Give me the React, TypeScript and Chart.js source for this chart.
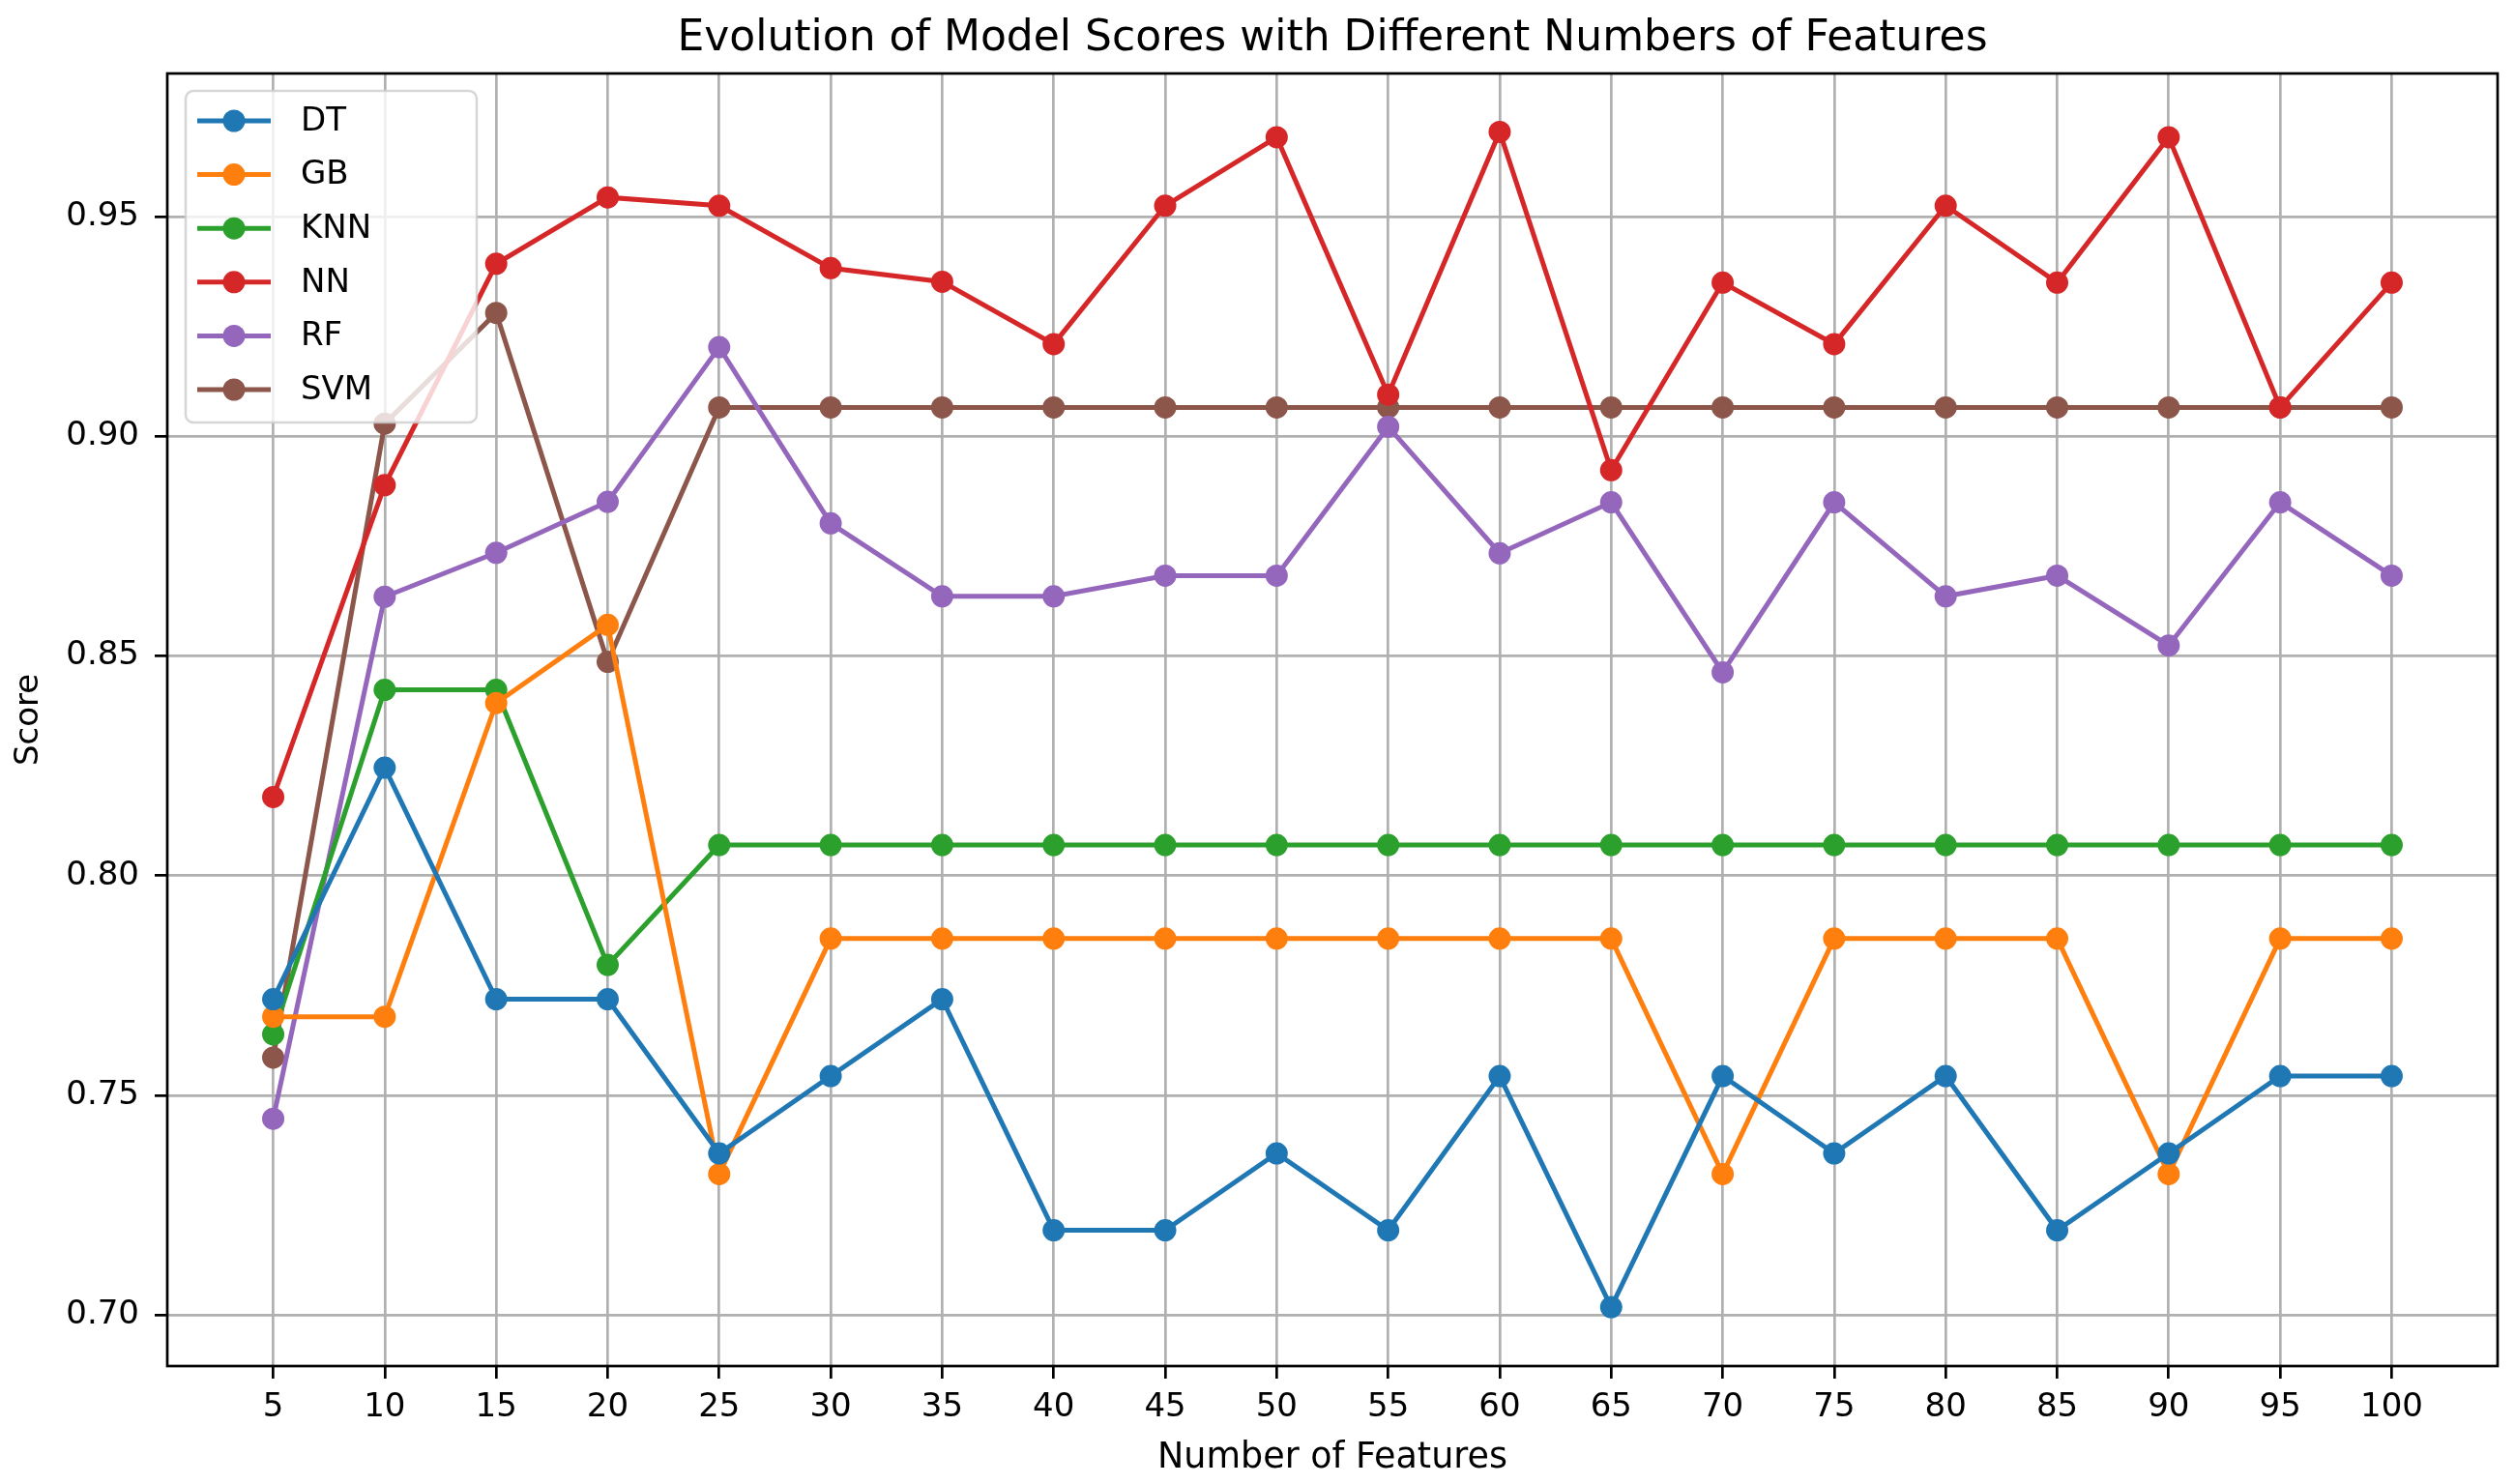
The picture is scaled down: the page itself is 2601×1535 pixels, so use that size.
import React, { useEffect, useRef } from "react";
import { Chart, registerables } from "chart.js";

Chart.register(...registerables);

const features = [5, 10, 15, 20, 25, 30, 35, 40, 45, 50, 55, 60, 65, 70, 75, 80, 85, 90, 95, 100];
const yTicks = [0.7, 0.75, 0.8, 0.85, 0.9, 0.95];
const modelNames = ["DT", "GB", "KNN", "NN", "RF", "SVM"];
const modelColors = ["#1f77b4", "#ff7f0e", "#2ca02c", "#d62728", "#9467bd", "#8c564b"];

const dtScores = [0.7719, 0.8246, 0.7719, 0.7719, 0.7368, 0.7544, 0.7719, 0.7193, 0.7193, 0.7368, 0.7193, 0.7544, 0.7018, 0.7544, 0.7368, 0.7544, 0.7193, 0.7368, 0.7544, 0.7544];
const gbScores = [0.7679, 0.7679, 0.8393, 0.8571, 0.7321, 0.7857, 0.7857, 0.7857, 0.7857, 0.7857, 0.7857, 0.7857, 0.7857, 0.7321, 0.7857, 0.7857, 0.7857, 0.7321, 0.7857, 0.7857];
const knnScores = [0.7639, 0.8423, 0.8423, 0.7797, 0.807, 0.807, 0.807, 0.807, 0.807, 0.807, 0.807, 0.807, 0.807, 0.807, 0.807, 0.807, 0.807, 0.807, 0.807, 0.807];
const nnScores = [0.8179, 0.8889, 0.9393, 0.9544, 0.9525, 0.9383, 0.9352, 0.921, 0.9525, 0.9681, 0.9095, 0.9693, 0.8923, 0.935, 0.921, 0.9525, 0.935, 0.9681, 0.9066, 0.935];
const rfScores = [0.7447, 0.8635, 0.8735, 0.8851, 0.9203, 0.8802, 0.8636, 0.8636, 0.8683, 0.8683, 0.9022, 0.8734, 0.885, 0.8463, 0.885, 0.8636, 0.8683, 0.8524, 0.885, 0.8683];
const svmScores = [0.7586, 0.9029, 0.9281, 0.8487, 0.9066, 0.9066, 0.9066, 0.9066, 0.9066, 0.9066, 0.9066, 0.9066, 0.9066, 0.9066, 0.9066, 0.9066, 0.9066, 0.9066, 0.9066, 0.9066];

const allScores = [dtScores, gbScores, knnScores, nnScores, rfScores, svmScores];

const chartTitle = "Evolution of Model Scores with Different Numbers of Features";
const xLabel = "Number of Features";
const yLabel = "Score";

const FONT = "DejaVu Sans";
const W = 2601;
const H = 1535;

const framePlugin = {
  id: "mplFrame",
  afterDatasetsDraw(chart: any) {
    const { ctx, chartArea } = chart;
    ctx.save();
    ctx.strokeStyle = "#000";
    ctx.lineWidth = 2.7;
    ctx.strokeRect(chartArea.left, chartArea.top, chartArea.right - chartArea.left, chartArea.bottom - chartArea.top);
    ctx.restore();
  },
};

const titlePlugin = {
  id: "mplTitle",
  afterDraw(chart: any) {
    const { ctx, chartArea } = chart;
    ctx.save();
    ctx.fillStyle = "#000";
    ctx.font = `44px "${FONT}"`;
    ctx.textAlign = "center";
    ctx.textBaseline = "alphabetic";
    ctx.fillText(chartTitle, (chartArea.left + chartArea.right) / 2, chartArea.top - 24);
    ctx.restore();
  },
};

const legendPlugin = {
  id: "mplLegend",
  afterDraw(chart: any) {
    const { ctx, chartArea } = chart;
    const bx = chartArea.left + 19;
    const by = chartArea.top + 18;
    const bw = 301;
    const bh = 343;
    ctx.save();
    ctx.beginPath();
    ctx.roundRect(bx, by, bw, bh, 8);
    ctx.fillStyle = "rgba(255,255,255,0.8)";
    ctx.fill();
    ctx.strokeStyle = "rgba(204,204,204,0.8)";
    ctx.lineWidth = 2.5;
    ctx.stroke();
    chart.data.datasets.forEach((ds: any, i: number) => {
      const y = by + 31 + i * 55.6;
      ctx.strokeStyle = ds.borderColor;
      ctx.lineWidth = 5;
      ctx.beginPath();
      ctx.moveTo(bx + 12, y);
      ctx.lineTo(bx + 88, y);
      ctx.stroke();
      ctx.fillStyle = ds.borderColor;
      ctx.beginPath();
      ctx.arc(bx + 50, y, 11.5, 0, Math.PI * 2);
      ctx.fill();
      ctx.fillStyle = "#000";
      ctx.font = `34px "${FONT}"`;
      ctx.textBaseline = "middle";
      ctx.textAlign = "left";
      ctx.fillText(ds.label, bx + 119, y + 1);
    });
    ctx.restore();
  },
};

export default function App() {
  const ref = useRef<HTMLCanvasElement | null>(null);

  useEffect(() => {
    document.body.style.margin = "0";
    document.body.style.overflow = "hidden";
    const canvas = ref.current;
    if (!canvas) return;
    const tickFont = { family: FONT, size: 34 };
    const chart = new Chart(canvas, {
      type: "line",
      data: {
        datasets: modelNames.map((name, i) => ({
          label: name,
          data: features.map((f, j) => ({ x: f, y: allScores[i][j] })),
          borderColor: modelColors[i],
          backgroundColor: modelColors[i],
          borderWidth: 5,
          pointRadius: 10,
          pointBorderWidth: 3,
          pointBackgroundColor: modelColors[i],
          pointBorderColor: modelColors[i],
          pointHoverRadius: 10,
          tension: 0,
          fill: false,
        })),
      },
      options: {
        responsive: false,
        animation: false,
        devicePixelRatio: 1,
        events: [],
        layout: { padding: { left: 0, right: 18, top: 76, bottom: 0 } },
        plugins: {
          legend: { display: false },
          tooltip: { enabled: false },
          title: { display: false },
        },
        scales: {
          x: {
            type: "linear",
            min: 0.25,
            max: 104.75,
            afterBuildTicks: (s: any) => {
              s.ticks = features.map((v) => ({ value: v }));
            },
            afterFit: (s: any) => {
              s.height = 122;
            },
            ticks: {
              color: "#000",
              font: tickFont,
              padding: 10,
              maxRotation: 0,
              autoSkip: false,
              callback: (v: any) => String(v),
            },
            grid: {
              color: "#b0b0b0",
              lineWidth: 2.7,
              drawTicks: true,
              tickLength: 13,
              tickColor: "#000",
              tickWidth: 2.7,
            },
            border: { display: false },
            title: {
              display: true,
              text: xLabel,
              color: "#000",
              font: { family: FONT, size: 36.5 },
              padding: { top: 0, bottom: 5 },
            },
          },
          y: {
            type: "linear",
            min: 0.6884,
            max: 0.9826,
            afterBuildTicks: (s: any) => {
              s.ticks = yTicks.map((v) => ({ value: v }));
            },
            afterFit: (s: any) => {
              s.width = 173;
            },
            ticks: {
              color: "#000",
              font: tickFont,
              padding: 16,
              callback: (v: any) => Number(v).toFixed(2),
            },
            grid: {
              color: "#b0b0b0",
              lineWidth: 2.7,
              drawTicks: true,
              tickLength: 13,
              tickColor: "#000",
              tickWidth: 2.7,
            },
            border: { display: false },
            title: {
              display: true,
              text: yLabel,
              color: "#000",
              font: tickFont,
              padding: { top: 10, bottom: 0 },
            },
          },
        },
      },
      plugins: [framePlugin, titlePlugin, legendPlugin],
    } as any);
    return () => chart.destroy();
  }, []);

  return (
    <div style={{ width: W, height: H }}>
      <canvas ref={ref} width={W} height={H} style={{ display: "block", width: W, height: H }} />
    </div>
  );
}
